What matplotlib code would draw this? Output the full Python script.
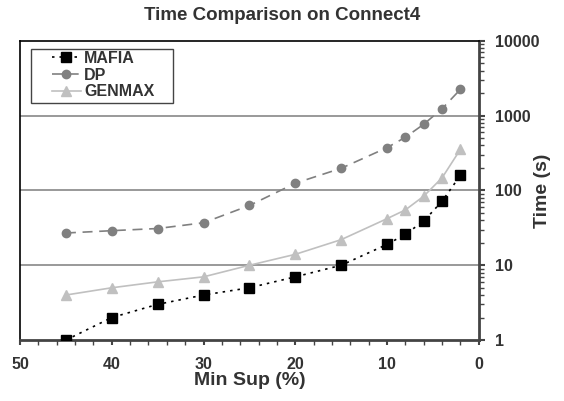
import matplotlib
matplotlib.use("Agg")
import matplotlib.pyplot as plt
from matplotlib.patches import Rectangle
from matplotlib.ticker import FixedLocator, LogLocator, NullFormatter

plt.rcParams['font.family'] = ['Liberation Sans', 'DejaVu Sans']
plt.rcParams['font.weight'] = 'bold'

min_sup = [45, 40, 35, 30, 25, 20, 15, 10, 8, 6, 4, 2]
mafia = [1, 2, 3, 4, 5, 7, 10, 19, 26, 39, 72, 160]
dp = [27, 29, 31, 37, 63, 125, 198, 374, 515, 769, 1242, 2254]
genmax = [4, 5, 6, 7, 10, 14, 22, 42, 55, 84, 148, 356]
x_ticks = [50, 40, 30, 20, 10, 0]
y_ticks = [1, 10, 100, 1000, 10000]

text_col = '#333333'

fig = plt.figure(figsize=(5.64, 4.01), dpi=100)
ax = fig.add_axes([0.0355, 0.152, 0.8135, 0.746])

for y in [10, 100, 1000]:
    ax.axhline(y, color='#888888', lw=1.2, zorder=1)

ax.plot(min_sup, mafia, color='black', ls=(0, (1.5, 3)), lw=1.2, marker='s',
        markersize=6.5, markerfacecolor='black', label='MAFIA', zorder=4)
ax.plot(min_sup, dp, color='#808080', ls=(0, (6, 4)), lw=1.2, marker='o',
        markersize=6, label='DP', zorder=3)
ax.plot(min_sup, genmax, color='#c0c0c0', ls='-', lw=1.2, marker='^',
        markersize=6.5, label='GENMAX', zorder=3)

ax.set_yscale('log')
ax.set_ylim(1, 10000)
ax.set_xlim(50, 0)

ax.xaxis.set_major_locator(FixedLocator(x_ticks))
ax.xaxis.set_minor_locator(FixedLocator(list(range(0, 51, 2))))
ax.yaxis.set_major_locator(FixedLocator(y_ticks))
ax.yaxis.set_minor_locator(LogLocator(base=10, subs=range(2, 10)))
ax.yaxis.set_minor_formatter(NullFormatter())
ax.set_yticklabels([str(v) for v in y_ticks])
ax.set_xticklabels([str(v) for v in x_ticks])

ax.yaxis.tick_right()
ax.yaxis.set_label_position('right')
ax.tick_params(axis='y', which='major', length=4.5, width=1.5, color='#444444',
               labelsize=11.5, labelcolor=text_col, pad=7)
ax.tick_params(axis='y', which='minor', length=3.5, width=1, color='#444444')
ax.tick_params(axis='x', which='major', length=3.5, width=1.5, color='#444444',
               labelsize=11.5, labelcolor=text_col, pad=9)
ax.tick_params(axis='x', which='minor', length=3.5, width=1, color='#444444')

for s in ['bottom', 'right']:
    ax.spines[s].set_color('#444444')
    ax.spines[s].set_linewidth(2)
for s in ['top', 'left']:
    ax.spines[s].set_color('black')
    ax.spines[s].set_linewidth(1.2)

ax.set_xlabel('Min Sup (%)', fontsize=14, fontweight='bold', color=text_col, labelpad=0)
ax.set_ylabel('Time (s)', fontsize=14, fontweight='bold', color=text_col, labelpad=-4)
fig.text(0.5, 1 - 15 / 401, 'Time Comparison on Connect4', fontsize=13.5,
         fontweight='bold', color=text_col, ha='center', va='center')

# legend frame drawn separately so the handles can sit inset
fig.patches.append(Rectangle((31 / 564, 1 - 103 / 401), 142 / 564, 54 / 401,
                             transform=fig.transFigure, fill=False,
                             edgecolor='#444444', lw=1, zorder=5))
leg = ax.legend(loc='upper left', bbox_to_anchor=(52 / 564, 1 - 51 / 401),
                bbox_transform=fig.transFigure, fontsize=11.5, frameon=False,
                borderpad=0, labelspacing=0.1, handlelength=1.8,
                handletextpad=0.2, borderaxespad=0)
for t in leg.get_texts():
    t.set_color(text_col)
    t.set_fontweight('bold')

fig.savefig('out.png', dpi=100)
